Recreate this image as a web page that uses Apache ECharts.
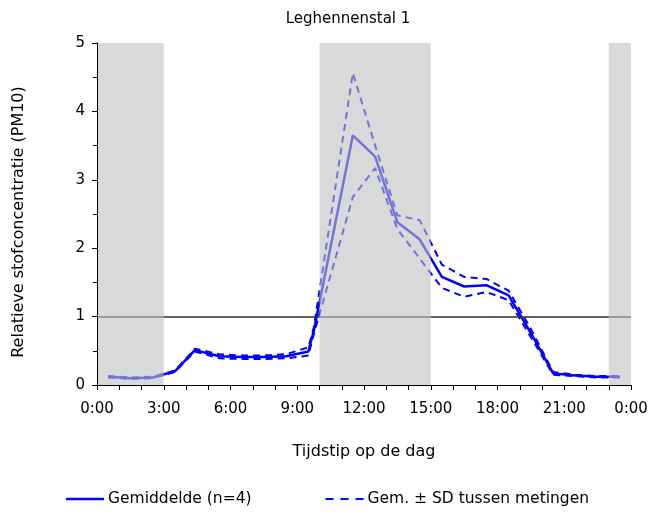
<!DOCTYPE html>
<html>
<head>
<meta charset="utf-8">
<script src="https://cdn.jsdelivr.net/npm/echarts@6/dist/echarts.min.js"></script>
<style>
  html, body { margin: 0; padding: 0; background: #fff; }
  #chart { width: 651px; height: 515px; }
</style>
</head>
<body>
<div id="chart"></div>
<script>
// Time of day (hours) of each averaged measurement
const hours = [0.5, 1.5, 2.5, 3.5, 4.4, 5.5, 6.5, 7.5, 8.5, 9.5, 9.75, 11.5, 12.5, 13.5, 14.5, 15.5, 16.5, 17.5, 18.5, 19.5, 20.5, 21.5, 22.5, 23.5];
// Mean relative PM10 concentration (n=4)
const meanValues = [0.12, 0.10, 0.11, 0.20, 0.51, 0.42, 0.41, 0.41, 0.42, 0.49, 0.80, 3.65, 3.34, 2.38, 2.13, 1.58, 1.44, 1.46, 1.31, 0.76, 0.17, 0.14, 0.12, 0.12];
// Mean + SD between measurements
const upperValues = [0.13, 0.11, 0.12, 0.21, 0.53, 0.45, 0.43, 0.43, 0.45, 0.55, 0.85, 4.56, 3.50, 2.48, 2.41, 1.76, 1.58, 1.55, 1.38, 0.82, 0.19, 0.15, 0.13, 0.13];
// Mean - SD between measurements
const lowerValues = [0.11, 0.09, 0.10, 0.19, 0.49, 0.39, 0.38, 0.38, 0.39, 0.43, 0.75, 2.75, 3.17, 2.28, 1.85, 1.42, 1.29, 1.36, 1.24, 0.70, 0.15, 0.13, 0.11, 0.11];
// Dark periods (lights off), start and end in hours
const darkPeriods = [[0, 3], [10, 15], [23, 24]];
// Reference level
const referenceLevel = 1;

const xTicks = { min: 0, max: 24, interval: 3 };
const yTicks = { min: 0, max: 5, interval: 1 };

const FONT = 'DejaVu Sans';
const BLUE = '#0000ff';
const SD_NAME = 'Gem. ± SD tussen metingen';
const MEAN_NAME = 'Gemiddelde (n=4)';

const pairs = vals => hours.map((h, i) => [h, vals[i]]);

const chart = echarts.init(document.getElementById('chart'), null, { renderer: 'canvas' });

const dashedSeries = vals => ({
  name: SD_NAME,
  type: 'line',
  data: pairs(vals),
  symbol: 'none',
  showSymbol: false,
  z: 3,
  lineStyle: { color: BLUE, width: 2, type: [7, 5] },
  itemStyle: { color: BLUE }
});

chart.setOption({
  animation: false,
  textStyle: { fontFamily: FONT },
  title: {
    text: 'Leghennenstal 1',
    left: 343, top: 7, textAlign: 'center',
    textStyle: { fontFamily: FONT, fontSize: 15, fontWeight: 'normal', color: '#000' }
  },
  legend: {
    bottom: 3, left: 61,
    itemWidth: 38, itemHeight: 10, itemGap: 74,
    textStyle: { fontFamily: FONT, fontSize: 15.5, color: '#000', padding: [0, 0, 0, -1] },
    data: [
      { name: MEAN_NAME, icon: 'path://M0,0 L38,0 L38,2.5 L0,2.5 Z' },
      { name: SD_NAME, icon: 'path://M0,0 h8 v2.2 h-8 z M15,0 h8 v2.2 h-8 z M30,0 h8 v2.2 h-8 z' }
    ]
  },
  grid: { left: 97, right: 20, top: 43, bottom: 130, containLabel: false },
  xAxis: [{
    type: 'value', min: xTicks.min, max: xTicks.max, interval: xTicks.interval,
    z: 20,
    name: 'Tijdstip op de dag', nameLocation: 'middle', nameGap: 59,
    nameTextStyle: { fontFamily: FONT, fontSize: 16, color: '#000' },
    axisLine: { show: true, lineStyle: { color: '#000', width: 1 } },
    axisTick: { show: true, length: 5, lineStyle: { color: '#000' } },
    minorTick: { show: true, splitNumber: 3, length: 5, lineStyle: { color: '#000' } },
    axisLabel: { fontFamily: FONT, fontSize: 15, color: '#000', margin: 17,
      formatter: v => (v % 24) + ':00' },
    splitLine: { show: false }
  }, {
    type: 'value', position: 'top', min: 0, max: 24, z: 20,
    axisLine: { show: true, lineStyle: { color: '#000', width: 1 } },
    axisTick: { show: false }, axisLabel: { show: false }, splitLine: { show: false }
  }],
  yAxis: [{
    type: 'value', min: yTicks.min, max: yTicks.max, interval: yTicks.interval,
    z: 20,
    name: 'Relatieve stofconcentratie (PM10)', nameLocation: 'middle', nameGap: 70,
    nameTextStyle: { fontFamily: FONT, fontSize: 16, color: '#000', padding: [0, 16, 0, 0] },
    axisLine: { show: true, lineStyle: { color: '#000', width: 1 } },
    axisTick: { show: true, length: 5, lineStyle: { color: '#000' } },
    minorTick: { show: true, splitNumber: 2, length: 4, lineStyle: { color: '#000' } },
    axisLabel: { fontFamily: FONT, fontSize: 15, color: '#000', margin: 12 },
    splitLine: { show: false }
  }, {
    type: 'value', position: 'right', min: 0, max: 5, z: 20,
    axisLine: { show: true, lineStyle: { color: '#000', width: 1 } },
    axisTick: { show: false }, axisLabel: { show: false }, splitLine: { show: false }
  }],
  series: [
    {
      name: MEAN_NAME,
      type: 'line',
      data: pairs(meanValues),
      symbol: 'none',
      z: 3,
      lineStyle: { color: BLUE, width: 2.5 },
      itemStyle: { color: BLUE },
      markLine: {
        silent: true, symbol: 'none', label: { show: false },
        lineStyle: { color: '#303030', width: 1.5, type: 'solid' },
        data: [{ yAxis: referenceLevel }]
      }
    },
    dashedSeries(upperValues),
    dashedSeries(lowerValues),
    {
      // translucent shading laid over the dark periods
      type: 'custom',
      name: 'donker',
      z: 10,
      silent: true,
      data: darkPeriods,
      encode: { x: [0, 1] },
      renderItem: (params, api) => {
        const a = api.coord([api.value(0), yTicks.max]);
        const b = api.coord([api.value(1), yTicks.min]);
        return {
          type: 'rect',
          shape: { x: a[0], y: a[1], width: b[0] - a[0], height: b[1] - a[1] },
          style: { fill: 'rgba(192,192,192,0.6)' }
        };
      }
    }
  ]
});
</script>
</body>
</html>
